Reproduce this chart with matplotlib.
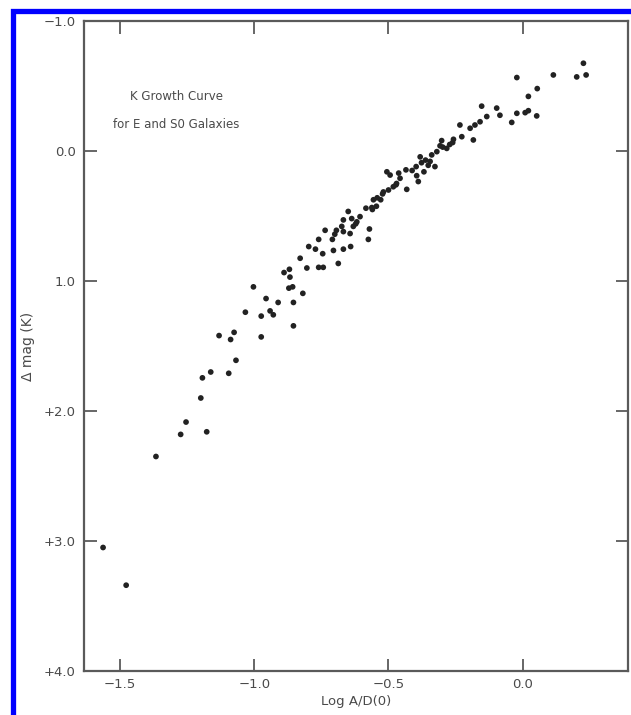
import matplotlib
matplotlib.use("Agg")
import matplotlib.pyplot as plt
from matplotlib.patches import Rectangle

# ---- data (log A/D(0), delta mag K) ----
log_ad = [
    -1.563, -1.477, -1.366, -1.274, -1.254, -1.177, -1.199, -1.193, -1.162, -1.095,
    -1.068, -1.131, -1.088, -1.075, -1.033, -0.974, -0.974, -1.003, -0.956, -0.941,
    -0.929, -0.911, -0.854, -0.854, -0.871, -0.857, -0.819, -0.889, -0.869, -0.867,
    -0.829, -0.804, -0.797, -0.772, -0.760, -0.760, -0.743, -0.745, -0.736, -0.687,
    -0.705, -0.668, -0.641, -0.709, -0.694, -0.668, -0.643, -0.631, -0.674, -0.618,
    -0.637, -0.650, -0.571, -0.575, -0.606, -0.584, -0.562, -0.545, -0.529, -0.519,
    -0.500, -0.482, -0.506, -0.494, -0.457, -0.435, -0.432, -0.397, -0.395, -0.389,
    -0.377, -0.368, -0.352, -0.339, -0.327, -0.320, -0.308, -0.302, -0.283, -0.261,
    -0.258, -0.227, -0.234, -0.184, -0.196, -0.178, -0.159, -0.153, -0.134, -0.097,
    -0.085, -0.041, -0.022, 0.009, 0.021, 0.052, 0.021, 0.054, -0.022, 0.114,
    0.201, 0.236, 0.226, -0.382, -0.345, -0.462, -0.556, -0.668, -0.542, -0.470,
    -0.560, -0.522, -0.472, -0.412, -0.362, -0.298, -0.272, -0.622, -0.700,
]
delta_mag = [
    3.05, 3.34, 2.35, 2.18, 2.085, 2.16, 1.90, 1.745, 1.70, 1.71,
    1.61, 1.42, 1.45, 1.395, 1.24, 1.43, 1.27, 1.045, 1.135, 1.23,
    1.26, 1.165, 1.345, 1.165, 1.055, 1.045, 1.095, 0.935, 0.91, 0.97,
    0.825, 0.90, 0.735, 0.755, 0.68, 0.895, 0.895, 0.79, 0.61, 0.865,
    0.765, 0.755, 0.735, 0.68, 0.61, 0.62, 0.635, 0.58, 0.58, 0.545,
    0.52, 0.465, 0.60, 0.68, 0.505, 0.44, 0.435, 0.425, 0.375, 0.315,
    0.30, 0.275, 0.16, 0.185, 0.21, 0.145, 0.295, 0.12, 0.19, 0.235,
    0.09, 0.16, 0.11, 0.03, 0.12, 0.005, -0.04, -0.08, -0.02, -0.065,
    -0.09, -0.11, -0.20, -0.085, -0.175, -0.20, -0.225, -0.345, -0.265, -0.33,
    -0.275, -0.22, -0.29, -0.295, -0.31, -0.27, -0.42, -0.48, -0.565, -0.585,
    -0.57, -0.585, -0.675, 0.045, 0.08, 0.17, 0.375, 0.53, 0.36, 0.25,
    0.45, 0.33, 0.26, 0.15, 0.07, -0.03, -0.05, 0.56, 0.64,
]

x_ticks = [-1.5, -1.0, -0.5, 0.0]
x_tick_labels = ["\u22121.5", "\u22121.0", "\u22120.5", "0.0"]
y_ticks = [-1.0, 0.0, 1.0, 2.0, 3.0, 4.0]
y_tick_labels = ["\u22121.0", "0.0", "1.0", "+2.0", "+3.0", "+4.0"]

title_lines = ["K Growth Curve", "for E and S0 Galaxies"]
x_label = "Log A/D(0)"
y_label = "\u0394 mag (K)"

# ---- figure ----
W, H = 631, 715
fig = plt.figure(figsize=(W / 100, H / 100), dpi=100)
fig.patch.set_facecolor("white")

ax = fig.add_axes([84 / W, 1 - 671 / H, (628 - 84) / W, (671 - 21) / H])
ax.set_xlim(-1.634, 0.392)
ax.set_ylim(4.0, -1.0)

frame_col = "#5a5a5a"
text_col = "#4a4a4a"
for sp in ax.spines.values():
    sp.set_color(frame_col)
    sp.set_linewidth(1.6)

ax.scatter(log_ad, delta_mag, s=17, color="#222222", edgecolors="none", zorder=3)

ax.set_xticks(x_ticks)
ax.set_xticklabels(x_tick_labels)
ax.set_yticks(y_ticks)
ax.set_yticklabels(y_tick_labels)
ax.tick_params(axis="both", direction="in", length=9, width=1.3, color=frame_col,
               labelcolor=text_col, labelsize=9.5, top=True, right=True)
ax.tick_params(axis="x", pad=5)
ax.tick_params(axis="y", pad=6)

ax.set_xlabel(x_label, color=text_col, fontsize=9.5, labelpad=3)
ax.set_ylabel(y_label, color=text_col, fontsize=10, labelpad=6)

ax.text(-1.291, -0.418, title_lines[0], ha="center", va="center",
        fontsize=8.5, color=text_col)
ax.text(-1.291, -0.202, title_lines[1], ha="center", va="center",
        fontsize=8.5, color=text_col)

# blue border of the scanned picture
fig.patches.append(Rectangle((12.5 / W, -0.1), 1.2, 1 - 10.5 / H + 0.1,
                             transform=fig.transFigure, fill=False,
                             edgecolor="#0000ff", linewidth=3.8, zorder=10))

fig.savefig("out.png", dpi=100)
